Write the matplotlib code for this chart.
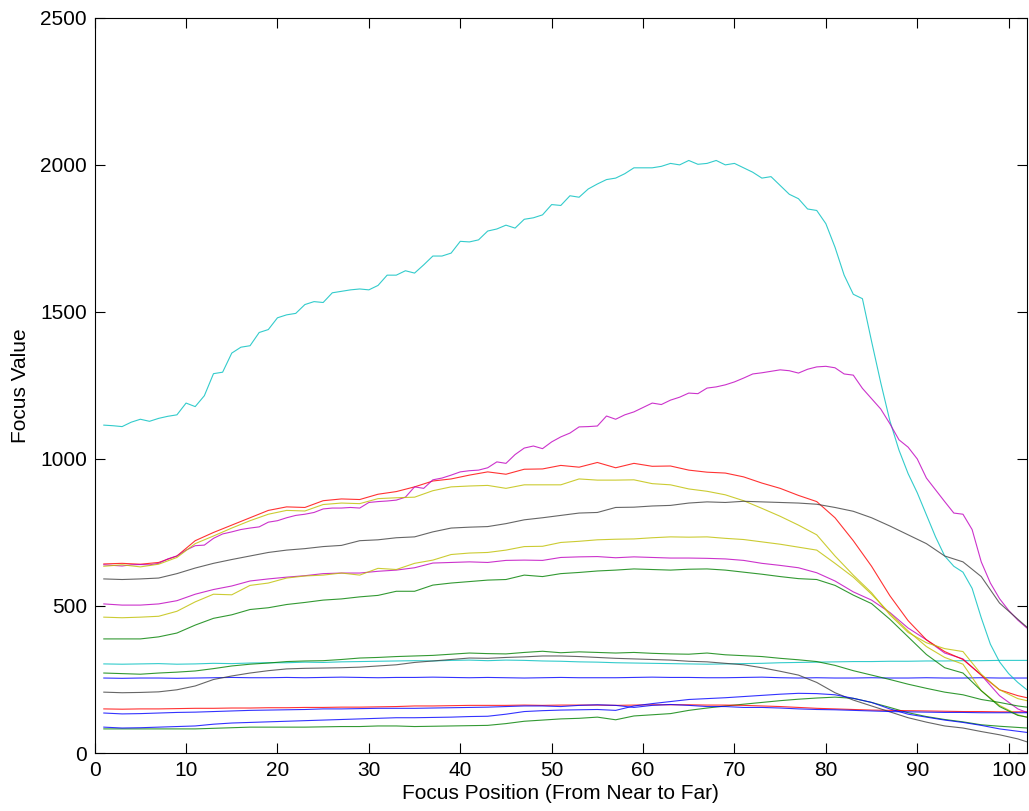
"""Focus value curves across focus positions (MATLAB-style line plot)."""
import matplotlib
matplotlib.use("Agg")
import matplotlib.pyplot as plt

# positions: full resolution for the two tall curves, every other step for the rest
x_full = list(range(1, 103))
x_half = list(range(1, 102, 2)) + [102]

cyan_top = [1115, 1113, 1110, 1125, 1135, 1128, 1138, 1145, 1150, 1190,
            1178, 1215, 1290, 1295, 1360, 1380, 1385, 1430, 1440, 1480,
            1490, 1495, 1525, 1535, 1532, 1565, 1570, 1575, 1578, 1575,
            1590, 1625, 1625, 1640, 1632, 1660, 1690, 1690, 1700, 1740,
            1738, 1745, 1775, 1782, 1795, 1785, 1815, 1820, 1830, 1865,
            1862, 1895, 1890, 1918, 1935, 1950, 1955, 1970, 1990, 1990,
            1990, 1995, 2005, 2000, 2015, 2002, 2005, 2015, 2000, 2005,
            1990, 1975, 1955, 1960, 1930, 1900, 1885, 1850, 1845, 1800,
            1720, 1625, 1560, 1545, 1400, 1260, 1130, 1030, 950, 885,
            810, 735, 670, 635, 615, 560, 460, 370, 310, 270,
            240, 215]

magenta_top = [640, 638, 636, 640, 641, 640, 645, 660, 670, 690,
               705, 707, 730, 745, 752, 760, 765, 769, 785, 790,
               800, 808, 812, 818, 830, 833, 833, 835, 833, 852,
               855, 857, 860, 870, 905, 900, 929, 935, 945, 956,
               960, 962, 970, 990, 985, 1015, 1037, 1044, 1035, 1058,
               1075, 1088, 1109, 1110, 1112, 1146, 1135, 1150, 1160, 1175,
               1190, 1185, 1200, 1210, 1224, 1222, 1241, 1245, 1252, 1262,
               1275, 1289, 1293, 1298, 1303, 1300, 1292, 1305, 1313, 1315,
               1310, 1289, 1285, 1240, 1205, 1170, 1120, 1065, 1040, 1000,
               935, 895, 855, 816, 812, 760, 650, 578, 525, 485,
               452, 425]

red_mid = [643, 645, 642, 648, 670, 722, 750, 775, 800, 825, 837, 835, 858,
           864, 862, 880, 889, 905, 925, 932, 945, 956, 948, 965, 966, 978,
           972, 988, 970, 985, 975, 976, 962, 955, 952, 939, 918, 900, 876,
           855, 800, 722, 635, 535, 450, 385, 345, 318, 265, 215, 195, 188]

yellow_mid = [635, 640, 633, 642, 665, 712, 738, 765, 790, 812, 825, 823, 845,
              850, 848, 865, 868, 870, 892, 905, 908, 910, 900, 912, 912, 912,
              932, 928, 928, 929, 916, 912, 898, 890, 878, 858, 832, 805, 775,
              742, 670, 605, 545, 470, 410, 375, 355, 345, 268, 215, 185, 178]

gray_mid = [592, 590, 592, 595, 610, 629, 645, 658, 670, 682, 690, 695, 702,
            706, 722, 725, 732, 735, 752, 765, 768, 770, 780, 793, 800, 808,
            816, 818, 835, 836, 840, 842, 850, 854, 852, 856, 854, 852, 850,
            846, 835, 822, 800, 772, 742, 712, 670, 650, 600, 510, 455, 428]

yellow_low = [462, 460, 462, 465, 482, 514, 540, 538, 570, 578, 595, 602, 605,
              612, 605, 628, 624, 645, 656, 675, 680, 682, 690, 702, 703, 716,
              720, 725, 727, 728, 732, 735, 734, 735, 730, 726, 718, 710, 700,
              690, 645, 598, 540, 475, 415, 362, 325, 302, 212, 162, 130, 122]

magenta_low = [507, 503, 503, 507, 518, 540, 556, 568, 585, 592, 598, 603, 610,
               612, 612, 618, 622, 630, 646, 648, 650, 648, 655, 656, 655, 665,
               667, 668, 664, 667, 665, 663, 663, 662, 660, 655, 645, 638, 630,
               613, 585, 548, 520, 478, 425, 385, 340, 320, 265, 195, 150, 138]

green_mid = [388, 388, 388, 395, 408, 435, 458, 470, 488, 494, 505, 512, 520,
             524, 531, 536, 550, 550, 571, 578, 583, 588, 590, 605, 600, 610,
             614, 619, 622, 626, 624, 622, 625, 626, 622, 615, 608, 600, 593,
             590, 570, 537, 508, 455, 395, 335, 290, 272, 212, 158, 128, 122]

cyan_flat = [303, 302, 303, 304, 302, 303, 305, 304, 306, 307, 307, 309, 308,
             310, 311, 312, 313, 314, 313, 315, 316, 314, 316, 315, 313, 312,
             310, 309, 307, 306, 305, 304, 303, 302, 303, 304, 305, 307, 308,
             309, 310, 311, 311, 312, 312, 313, 313, 314, 314, 315, 315, 315]

green_flat = [272, 270, 268, 272, 275, 279, 287, 296, 302, 306, 311, 313, 314,
              318, 323, 325, 328, 330, 332, 336, 340, 338, 337, 342, 346, 341,
              344, 342, 340, 342, 339, 337, 336, 340, 334, 331, 328, 322, 317,
              311, 298, 280, 265, 250, 234, 220, 207, 198, 182, 172, 160, 156]

blue_flat = [255, 254, 255, 255, 254, 255, 256, 257, 256, 256, 257, 256, 257,
             258, 257, 256, 257, 257, 258, 257, 256, 257, 256, 255, 256, 257,
             256, 256, 256, 257, 258, 257, 257, 256, 256, 257, 258, 256, 255,
             256, 255, 255, 256, 255, 255, 256, 255, 255, 256, 255, 255, 255]

gray_low = [207, 205, 206, 208, 215, 228, 250, 262, 272, 280, 286, 288, 289,
            290, 292, 296, 300, 308, 313, 318, 323, 322, 325, 327, 330, 330,
            328, 325, 322, 320, 318, 316, 312, 310, 305, 300, 290, 278, 265,
            240, 205, 180, 160, 140, 120, 105, 92, 85, 73, 62, 48, 38]

red_flat = [150, 149, 150, 150, 151, 152, 152, 153, 153, 154, 154, 155, 155,
            156, 156, 157, 158, 160, 160, 161, 162, 162, 162, 163, 162, 163,
            163, 163, 162, 163, 164, 164, 164, 163, 163, 162, 160, 158, 155,
            152, 150, 148, 146, 145, 144, 143, 142, 141, 141, 140, 140, 140]

blue_low = [136, 133, 134, 136, 138, 139, 141, 143, 145, 146, 147, 148, 150,
            150, 151, 152, 152, 152, 153, 154, 155, 156, 158, 160, 160, 158,
            162, 164, 162, 155, 162, 165, 162, 158, 158, 155, 155, 153, 150,
            148, 147, 145, 143, 141, 140, 139, 138, 138, 137, 137, 137, 137]

blue_rise = [88, 85, 86, 88, 90, 92, 98, 102, 104, 106, 108, 110, 112,
             114, 116, 118, 120, 120, 121, 122, 124, 125, 132, 141, 144, 146,
             147, 148, 145, 160, 168, 175, 182, 185, 188, 192, 196, 200, 203,
             202, 198, 186, 172, 150, 132, 122, 112, 104, 94, 82, 74, 70]

green_low = [82, 82, 82, 82, 82, 82, 84, 86, 88, 88, 88, 88, 89,
             90, 90, 92, 92, 90, 91, 92, 93, 94, 100, 108, 112, 116,
             118, 122, 113, 126, 130, 134, 145, 153, 160, 166, 172, 178, 183,
             187, 190, 186, 172, 155, 137, 124, 114, 106, 96, 91, 87, 85]

# MATLAB default colour order
B = (0.0, 0.0, 1.0)
G = (0.0, 0.5, 0.0)
R = (1.0, 0.0, 0.0)
C = (0.0, 0.75, 0.75)
M = (0.75, 0.0, 0.75)
Y = (0.75, 0.75, 0.0)
K = (0.25, 0.25, 0.25)

series = [
    (x_half, blue_flat, B), (x_half, green_low, G), (x_half, red_flat, R),
    (x_half, cyan_flat, C), (x_half, magenta_low, M), (x_half, yellow_low, Y),
    (x_half, gray_low, K), (x_half, blue_low, B), (x_half, green_flat, G),
    (x_half, red_mid, R), (x_full, cyan_top, C), (x_full, magenta_top, M),
    (x_half, yellow_mid, Y), (x_half, gray_mid, K), (x_half, blue_rise, B),
    (x_half, green_mid, G),
]

plt.rcParams["font.family"] = ["Liberation Sans", "DejaVu Sans"]

fig = plt.figure(figsize=(10.29, 8.11), dpi=100)
ax = fig.add_axes([0.092, 0.0715, 0.906, 0.9065])

for xs, ys, col in series:
    ax.plot(xs, ys, color=col, linewidth=0.8, alpha=0.8)

ax.set_xlim(0, 102)
ax.set_ylim(0, 2500)
ax.set_xticks(range(0, 101, 10))
ax.set_yticks(range(0, 2501, 500))
ax.tick_params(direction="in", length=7, width=0.8, top=True, right=True,
               labelsize=15, pad=5.5)
for sp in ax.spines.values():
    sp.set_linewidth(0.8)
ax.set_xlabel("Focus Position (From Near to Far)", fontsize=15, labelpad=3)
ax.set_ylabel("Focus Value", fontsize=15, labelpad=7)

fig.savefig("out.png", dpi=100)
